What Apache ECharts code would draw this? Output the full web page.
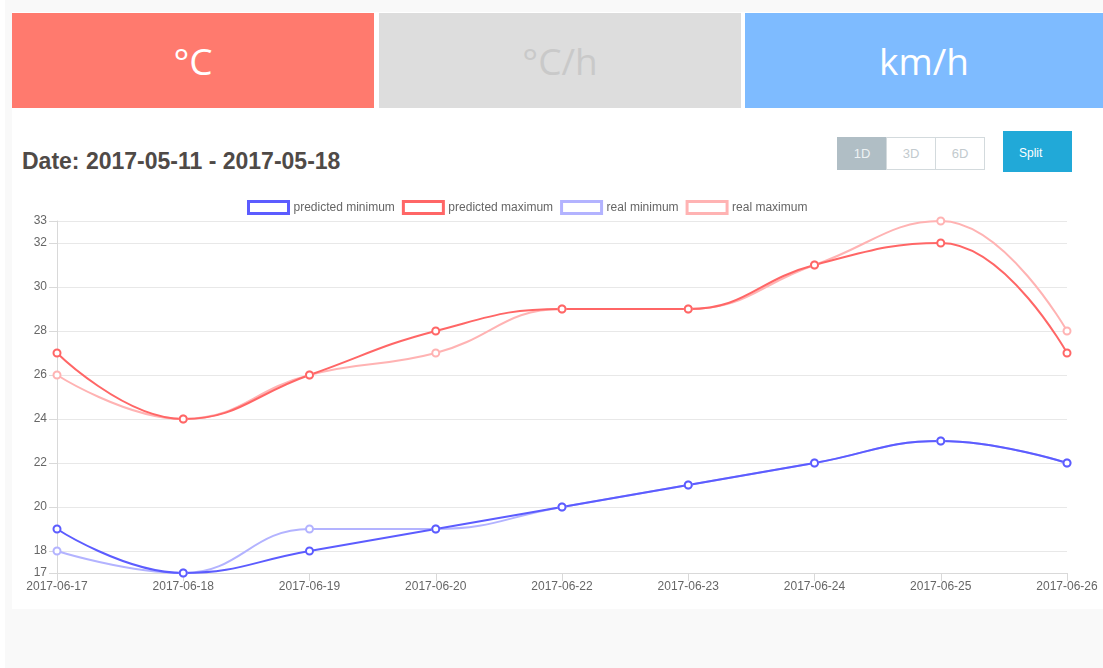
<!DOCTYPE html>
<html>
<head>
<meta charset="utf-8">
<script src="https://cdn.jsdelivr.net/npm/echarts@6/dist/echarts.min.js"></script>
<style>
  html, body { margin: 0; padding: 0; background: #fff; }
  #page { position: relative; width: 1103px; height: 668px; overflow: hidden; }
  #bg { position: absolute; left: 5px; top: 0; width: 1098px; height: 668px; background: #f9f9f9; }
  #card { position: absolute; left: 12px; top: 12px; width: 1091px; height: 597px; background: #fff; }
  .tile { position: absolute; top: 13px; height: 95px; line-height: 95px; text-align: center;
          font-family: "Open Sans", sans-serif; font-size: 37px; }
  #title { position: absolute; left: 22px; top: 148px; font-family: "Liberation Sans", Arial, sans-serif;
           font-weight: bold; font-size: 23px; color: #4f4a47; }
  .btn { position: absolute; top: 137px; height: 31px; width: 48px; line-height: 31px; text-align: center;
         font-family: "Liberation Sans", Arial, sans-serif; font-size: 13px; border: 1px solid #d3dadd; }
  #split { position: absolute; left: 1003px; top: 131px; width: 69px; height: 41px; line-height: 44px;
           background: #21a9d8; color: #fff; font-family: "Liberation Sans", Arial, sans-serif; font-size: 12px;
           padding-left: 16px; box-sizing: border-box; }
  #chart { position: absolute; left: 0; top: 190px; width: 1103px; height: 420px; }
</style>
</head>
<body>
<div id="page">
  <div id="bg"></div>
  <div id="card"></div>
  <div class="tile" style="left:12px;width:362px;background:#ff7a6e;color:#fff;">°C</div>
  <div class="tile" style="left:379px;width:362px;background:#dddddd;color:#c9c9c9;">°C/h</div>
  <div class="tile" style="left:745px;width:358px;background:#7ebbff;color:#fff;">km/h</div>
  <div id="title">Date: 2017-05-11 - 2017-05-18</div>
  <div class="btn" style="left:837px;background:#b0bec5;color:#eef2f4;border-color:#b0bec5;">1D</div>
  <div class="btn" style="left:886px;background:#fff;color:#c2cace;">3D</div>
  <div class="btn" style="left:935px;background:#fff;color:#c2cace;">6D</div>
  <div id="split">Split</div>
  <div id="chart"></div>
</div>
<script>
  var dates = ['2017-06-17', '2017-06-18', '2017-06-19', '2017-06-20', '2017-06-22',
               '2017-06-23', '2017-06-24', '2017-06-25', '2017-06-26'];
  var predictedMin = [19, 17, 18, 19, 20, 21, 22, 23, 22];
  var predictedMax = [27, 24, 26, 28, 29, 29, 31, 32, 27];
  var realMin = [18, 17, 19, 19, 20, 21, 22, 23, 22];
  var realMax = [26, 24, 26, 27, 29, 29, 31, 33, 28];

  var names = ['predicted minimum', 'predicted maximum', 'real minimum', 'real maximum'];
  var colors = ['#5c5cff', '#ff6666', '#b3b3ff', '#ffb3b3'];
  var values = [predictedMin, predictedMax, realMin, realMax];

  var chart = echarts.init(document.getElementById('chart'));

  // real series first so the predicted lines sit on top
  var order = [2, 3, 0, 1];
  var series = order.map(function (i) {
    return {
      name: names[i],
      type: 'line',
      data: values[i],
      smooth: 0.45,
      symbol: 'emptyCircle',
      symbolSize: 7,
      showSymbol: true,
      lineStyle: { color: colors[i], width: 2 },
      itemStyle: { color: colors[i], borderWidth: 1 },
      emphasis: { disabled: true },
      animation: false
    };
  });

  chart.setOption({
    animation: false,
    textStyle: { fontFamily: '"Liberation Sans", Arial, sans-serif' },
    legend: {
      left: 242,
      top: 5,
      itemWidth: 40,
      itemHeight: 12,
      itemGap: 7,
      selectedMode: false,
      textStyle: { fontSize: 12, color: '#666' },
      data: names.map(function (n, i) {
        return { name: n, icon: 'rect', itemStyle: { color: '#fff', borderColor: colors[i], borderWidth: 3 } };
      })
    },
    grid: { left: 57, right: 36, top: 31, bottom: 37, containLabel: false },
    xAxis: {
      type: 'category',
      data: dates,
      boundaryGap: false,
      axisLine: { lineStyle: { color: '#d9d9d9' } },
      axisTick: { show: true, length: 8, alignWithLabel: true, lineStyle: { color: '#d9d9d9' } },
      axisLabel: { color: '#666', fontSize: 12, margin: 8, interval: 0 },
      splitLine: { show: false }
    },
    yAxis: {
      type: 'value',
      min: 'dataMin',
      max: 'dataMax',
      splitNumber: 8,
      axisLine: { show: true, lineStyle: { color: '#d9d9d9' } },
      axisTick: { show: true, length: 8, lineStyle: { color: '#d9d9d9' } },
      axisLabel: { color: '#666', fontSize: 12, margin: 10, hideOverlap: false },
      splitLine: { show: true, lineStyle: { color: '#e8e8e8' } }
    },
    series: series
  });
</script>
</body>
</html>
